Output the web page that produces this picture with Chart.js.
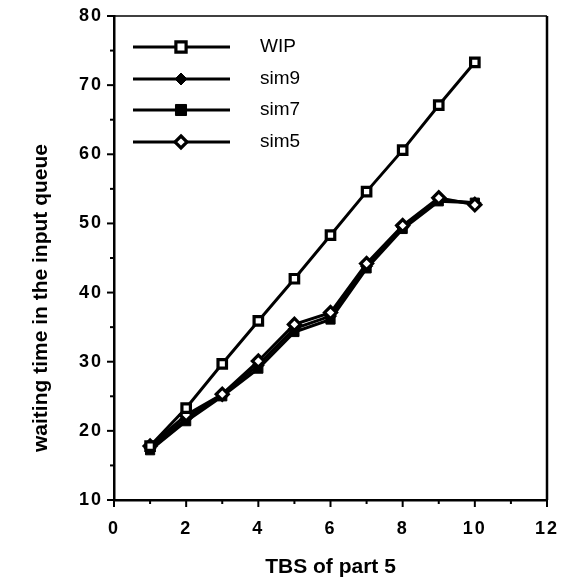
<!DOCTYPE html>
<html>
<head>
<meta charset="utf-8">
<script src="https://cdn.jsdelivr.net/npm/chart.js@4/dist/chart.umd.min.js"></script>
<style>
  html, body { margin: 0; padding: 0; background: #fff; }
  #wrap { width: 564px; height: 585px; }
</style>
</head>
<body>
<div id="wrap"><canvas id="waitChart"></canvas></div>
<script>
// TBS values (x) and waiting times
const tbs = [1, 2, 3, 4, 5, 6, 7, 8, 9, 10];
const wip  = [17.8, 23.3, 29.7, 35.9, 42.0, 48.3, 54.6, 60.6, 67.1, 73.3];
const sim9 = [17.5, 21.8, 25.3, 29.5, 34.8, 36.6, 43.8, 49.4, 53.4, 53.0];
const sim7 = [17.2, 21.4, 25.0, 29.0, 34.3, 36.1, 43.5, 49.2, 53.2, 53.0];
const sim5 = [17.8, 22.3, 25.3, 30.1, 35.4, 37.1, 44.2, 49.7, 53.7, 52.7];
const seriesNames = ['WIP', 'sim9', 'sim7', 'sim5'];
const xTicks = [0, 2, 4, 6, 8, 10, 12];
const yTicks = [10, 20, 30, 40, 50, 60, 70, 80];
const xTitle = 'TBS of part 5';
const yTitle = 'waiting time in the input queue';

const FONT = '"Liberation Sans", Arial, Helvetica, sans-serif';

function pts(values) {
    return tbs.map((x, i) => ({ x: x, y: values[i] }));
}

// marker styles shared by the lines and the legend
const styles = {
    WIP:  { pointStyle: 'rect',    fill: '#fff', radius: 6, border: 3.2 },
    sim9: { pointStyle: 'rectRot', fill: '#000', radius: 6, border: 1 },
    sim7: { pointStyle: 'rect',    fill: '#000', radius: 6.5, border: 1 },
    sim5: { pointStyle: 'rectRot', fill: '#fff', radius: 6, border: 3.2 }
};

function makeSet(name, values, order) {
    const s = styles[name];
    return {
        label: name,
        data: pts(values),
        borderColor: '#000',
        borderWidth: 3,
        pointStyle: s.pointStyle,
        pointRadius: s.radius,
        pointBackgroundColor: s.fill,
        pointBorderColor: '#000',
        pointBorderWidth: s.border,
        order: order
    };
}

// wider letter spacing for the tick numbers only
const spacingPlugin = {
    id: 'spacing',
    beforeDraw(chart) { chart.ctx.letterSpacing = '2px'; },
    beforeDatasetsDraw(chart) { chart.ctx.letterSpacing = '0px'; }
};

// minor ticks, top/right frame, axis titles and the inset legend
const framePlugin = {
    id: 'frame',
    afterDraw(chart) {
        const ctx = chart.ctx;
        const a = chart.chartArea;
        const xs = chart.scales.x, ys = chart.scales.y;
        ctx.save();
        ctx.letterSpacing = '0px';
        ctx.strokeStyle = '#000';

        ctx.lineWidth = 1.5;
        ctx.beginPath();
        ctx.moveTo(a.left, a.top);
        ctx.lineTo(a.right, a.top);
        ctx.stroke();
        ctx.lineWidth = 2.5;
        ctx.beginPath();
        ctx.moveTo(a.right, a.top);
        ctx.lineTo(a.right, a.bottom);
        ctx.stroke();

        ctx.lineWidth = 2;
        for (let v = xs.min; v <= xs.max; v++) {
            const px = xs.getPixelForValue(v);
            const len = v % 2 === 0 ? 7 : 4;
            ctx.beginPath();
            ctx.moveTo(px, a.bottom);
            ctx.lineTo(px, a.bottom + len);
            ctx.stroke();
        }
        for (let v = ys.min; v <= ys.max; v += 5) {
            const py = ys.getPixelForValue(v);
            const len = v % 10 === 0 ? 7 : 4;
            ctx.beginPath();
            ctx.moveTo(a.left - len, py);
            ctx.lineTo(a.left, py);
            ctx.stroke();
        }

        // axis titles
        ctx.fillStyle = '#000';
        ctx.font = 'bold 21px ' + FONT;
        ctx.textAlign = 'center';
        ctx.textBaseline = 'middle';
        ctx.fillText(xTitle, (a.left + a.right) / 2, 567);
        ctx.save();
        ctx.translate(41, 298);
        ctx.rotate(-Math.PI / 2);
        ctx.fillText(yTitle, 0, 0);
        ctx.restore();

        // legend
        const rows = [47, 79, 110, 142];
        ctx.textAlign = 'left';
        chart.data.datasets.forEach(ds => {
            const i = seriesNames.indexOf(ds.label);
            const y = rows[i];
            ctx.lineWidth = 3;
            ctx.beginPath();
            ctx.moveTo(a.left + 19, y);
            ctx.lineTo(a.left + 116, y);
            ctx.stroke();
            const s = styles[ds.label];
            const cx = a.left + 67;
            const r = s.radius;
            ctx.beginPath();
            if (s.pointStyle === 'rect') {
                ctx.rect(cx - r * 0.85, y - r * 0.85, r * 1.7, r * 1.7);
            } else {
                ctx.moveTo(cx, y - r);
                ctx.lineTo(cx + r, y);
                ctx.lineTo(cx, y + r);
                ctx.lineTo(cx - r, y);
                ctx.closePath();
            }
            ctx.fillStyle = s.fill;
            ctx.fill();
            ctx.lineWidth = s.border;
            ctx.stroke();
            ctx.fillStyle = '#000';
            ctx.font = '19px ' + FONT;
            ctx.fillText(ds.label, a.left + 146, y);
        });
        ctx.restore();
    }
};

document.addEventListener('DOMContentLoaded', function() {
    const canvas = document.getElementById('waitChart');
    new Chart(canvas.getContext('2d'), {
        type: 'line',
        data: {
            datasets: [
                makeSet('WIP', wip, 0),
                makeSet('sim9', sim9, 2),
                makeSet('sim7', sim7, 3),
                makeSet('sim5', sim5, 1)
            ]
        },
        options: {
            responsive: true,
            maintainAspectRatio: false,
            animation: false,
            layout: { padding: { top: 16, right: 17, bottom: 0, left: 0 } },
            plugins: {
                legend: { display: false },
                tooltip: { enabled: false }
            },
            scales: {
                x: {
                    type: 'linear',
                    min: 0,
                    max: 12,
                    afterBuildTicks: s => { s.ticks = xTicks.map(v => ({ value: v })); },
                    grid: { display: false, drawTicks: false },
                    border: { color: '#000', width: 2.5 },
                    ticks: {
                        color: '#000',
                        padding: 18,
                        font: { family: FONT, size: 18, weight: 'bold' }
                    },
                    title: { display: false },
                    afterFit: s => { s.height = 85; s.paddingLeft = 0; s.paddingRight = 0; }
                },
                y: {
                    min: 10,
                    max: 80,
                    afterBuildTicks: s => { s.ticks = yTicks.map(v => ({ value: v })); },
                    grid: { display: false, drawTicks: false },
                    border: { color: '#000', width: 2.5 },
                    ticks: {
                        color: '#000',
                        padding: 11,
                        font: { family: FONT, size: 18, weight: 'bold' }
                    },
                    title: { display: false },
                    afterFit: s => { s.width = 114; s.paddingTop = 0; s.paddingBottom = 0; }
                }
            }
        },
        plugins: [spacingPlugin, framePlugin]
    });
});
</script>
</body>
</html>
